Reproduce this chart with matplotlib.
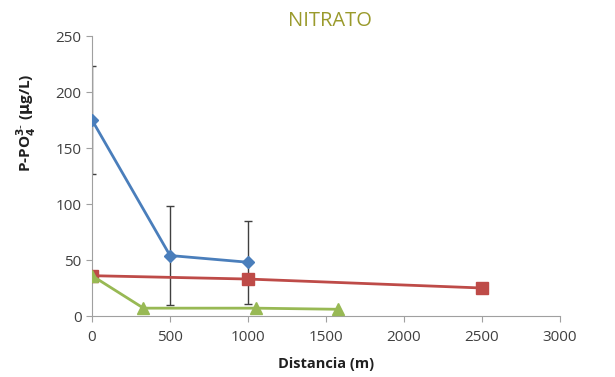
import numpy as np
import matplotlib.pyplot as plt

# data
blue_x = [0, 500, 1000]
blue_y = [175, 54, 48]
blue_err = [48, 44, 37]

red_x = [0, 1000, 2500]
red_y = [36, 33, 25]

green_x = [0, 330, 1050, 1580]
green_y = [36, 7, 7, 6]

xticks = [0, 500, 1000, 1500, 2000, 2500, 3000]
yticks = [0, 50, 100, 150, 200, 250]

fig = plt.figure(figsize=(6.15, 3.77), dpi=100)
ax = fig.add_axes([0.1496, 0.1618, 0.7610, 0.7427])

ax.errorbar(blue_x, blue_y, yerr=blue_err, fmt='none', ecolor='#404040',
            elinewidth=1, capsize=3, capthick=1, zorder=2)
ax.plot(blue_x, blue_y, color='#4a7ebb', lw=2, marker='D', ms=6, zorder=3)
ax.plot(red_x, red_y, color='#be4b48', lw=2, marker='s', ms=9, zorder=3)
ax.plot(green_x, green_y, color='#98b954', lw=2, marker='^', ms=8, zorder=4)

ax.set_xlim(0, 3000)
ax.set_ylim(0, 250)
ax.set_xticks(xticks)
ax.set_yticks(yticks)
for sp in ['top', 'right']:
    ax.spines[sp].set_visible(False)
for sp in ['left', 'bottom']:
    ax.spines[sp].set_color('#a0a0a0')
ax.tick_params(colors='#a0a0a0', labelcolor='#404040', labelsize=11, length=4)
ax.tick_params(axis='x', pad=6)
for lab in ax.get_xticklabels() + ax.get_yticklabels():
    lab.set_family('Open Sans')

ax.set_xlabel('Distancia (m)', fontsize=10.5, fontweight='bold', family='Open Sans',
              color='#202020', labelpad=9)
ax.set_ylabel(r'P-PO$_\mathbf{4}^{\mathbf{3\text{-}}}$ ($\mathbf{\mu}$g/L)', fontsize=11,
              fontweight='bold', family='Open Sans', color='#202020', labelpad=14)
ax.yaxis.set_label_coords(-0.115, 0.69)

fig.text(0.537, 0.945, 'NITRATO', ha='center', va='center', fontsize=14.5,
         color='#9a9a2c', family='Open Sans')

fig.savefig('out.png', dpi=100)
